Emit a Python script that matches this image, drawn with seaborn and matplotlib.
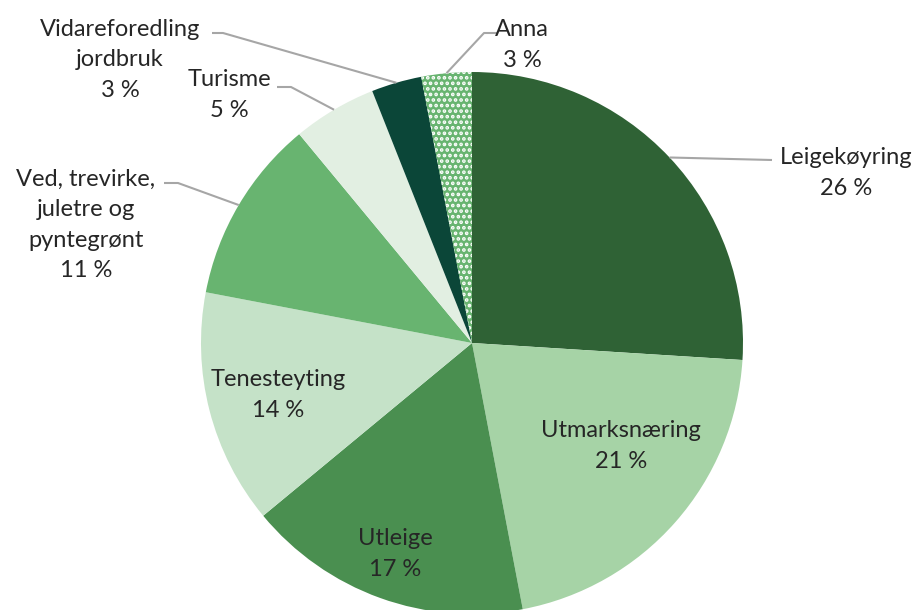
import numpy as np
import matplotlib
matplotlib.use("Agg")
import matplotlib.pyplot as plt
import seaborn as sns

# Share of income by activity (percent)
categories = ["Leigekøyring", "Utmarksnæring", "Utleige", "Tenesteyting",
              "Ved, trevirke,\njuletre og\npyntegrønt", "Turisme",
              "Vidareforedling\njordbruk", "Anna"]
values = [26, 21, 17, 14, 11, 5, 3, 3]
colors = ["#2F6235", "#A6D3A6", "#4A8F50", "#C5E2C8",
          "#68B470", "#E2EFE2", "#0B4638", "#68B470"]

sns.set_theme(style="white")
plt.rcParams["font.family"] = ["Lato", "DejaVu Sans"]
plt.rcParams["hatch.linewidth"] = 1.8

W, H = 917, 610
CX, CY, R = 472, 343, 271
fig = plt.figure(figsize=(W / 100, H / 100), dpi=100)
ax = fig.add_axes([(CX - R) / W, (H - CY - R) / H, 2 * R / W, 2 * R / H])

wedges, _ = ax.pie(values, colors=colors, startangle=90, counterclock=False,
                   radius=1, wedgeprops=dict(edgecolor="white", linewidth=0))
ax.set_xlim(-1, 1)
ax.set_ylim(-1, 1)
ax.axis("off")
# "Anna" slice is drawn with a dotted fill
wedges[-1].set_hatch("...")
for w in wedges:
    w.set_clip_on(False)


def px(x, y):
    """Convert pixel position (origin top-left) to data coordinates."""
    return (x - CX) / R, (CY - y) / R


txt_color = "#262626"
line_color = "#A6A6A6"
fs = 17

# Label placement: (text centre px, inside?, elbow points px)
layout = {
    0: dict(pos=(846, 173), inside=False, path=[(772, 160)]),
    1: dict(pos=(621, 446), inside=True),
    2: dict(pos=(395, 554), inside=True),
    3: dict(pos=(278, 395), inside=True),
    4: dict(pos=(86, 225), inside=False, path=[(178, 183), (164, 183)]),
    5: dict(pos=(229, 95), inside=False, path=[(291, 87), (277, 87)]),
    6: dict(pos=(120, 60), inside=False, path=[(223, 33), (212, 33)]),
    7: dict(pos=(522, 45), inside=False, path=[(484, 33), (498, 33)]),
}

for i, (w, cat, v) in enumerate(zip(wedges, categories, values)):
    spec = layout[i]
    label = f"{cat}\n{v} %"
    tx, ty = px(*spec["pos"])
    ax.text(tx, ty, label, ha="center", va="center", fontsize=fs,
            color=txt_color, linespacing=1.55, clip_on=False)
    if not spec["inside"]:
        mid = np.deg2rad((w.theta1 + w.theta2) / 2)
        xs = [np.cos(mid)] + [px(*p)[0] for p in spec["path"]]
        ys = [np.sin(mid)] + [px(*p)[1] for p in spec["path"]]
        ax.plot(xs, ys, color=line_color, lw=1.5, clip_on=False,
                solid_capstyle="butt")

fig.savefig("out.png", dpi=100)
